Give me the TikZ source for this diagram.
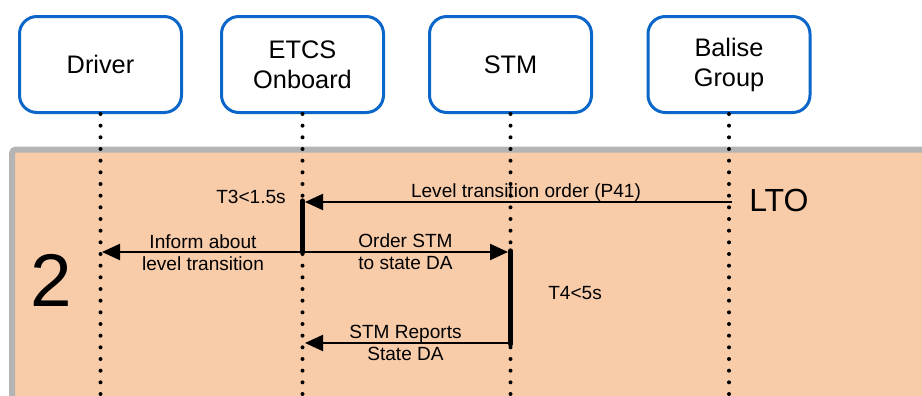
\documentclass[tikz,border=0pt]{standalone}
\usepackage{fontspec}
\setmainfont{Liberation Sans}
\usetikzlibrary{arrows.meta}
\definecolor{boxblue}{HTML}{0A66C8}
\definecolor{peach}{HTML}{F8CBA9}
\definecolor{framegray}{HTML}{B4B4B4}
\begin{document}
\begin{tikzpicture}[x=0.75pt,y=-0.75pt,
  actor/.style={draw=boxblue, line width=2.25pt, rounded corners=13pt, minimum width=121.5pt, minimum height=72pt, align=center, font=\fontsize{19}{22.5}\selectfont, inner sep=0pt, fill=white},
  life/.style={line width=3pt, dash pattern=on 0pt off 8.75pt, line cap=round},
  actbar/.style={line width=4pt, line cap=round},
  msg/.style={line width=1.5pt, -{Triangle[length=13.5pt,width=12pt]}},
  lbl/.style={font=\fontsize{14.3}{16.5}\selectfont, inner sep=0pt, align=center}]
\clip (0,0) rectangle (922,396);
% frame
\draw[line width=4.5pt, draw=framegray, fill=peach, rounded corners=3pt] (12,149.5) rectangle (960,440);
% actors
\node[actor] (drv) at (100.5,64.5) {Driver};
\node[actor] (etcs) at (302.5,64.5) {ETCS\\Onboard};
\node[actor] (stm) at (510.5,64.5) {STM};
\node[actor] (bal) at (729,64.5) {Balise\\Group};
% lifeline ends
\coordinate (drvEnd) at (100.5,400);
\coordinate (etcsEnd) at (302.5,400);
\coordinate (stmEnd) at (510.5,400);
\coordinate (balEnd) at (729,400);
\draw[life] (drv.south) -- (drvEnd);
\draw[life] (etcs.south) -- (etcsEnd);
\draw[life] (stm.south) -- (stmEnd);
\draw[life] (bal.south) -- (balEnd);
% activation bars
\coordinate (etcsBarTop) at (302.5,201);
\coordinate (etcsBarBot) at (302.5,252);
\coordinate (stmBarTop) at (510.5,251);
\coordinate (stmBarBot) at (510.5,344);
\draw[actbar] (etcsBarTop) -- (etcsBarBot);
\draw[actbar] (stmBarTop) -- (stmBarBot);
% message points
\coordinate (ltoStart) at (732,202);
\coordinate (ltoTip) at (305,202);
\coordinate (infStart) at (302.5,252);
\coordinate (infTip) at (102,252);
\coordinate (ordStart) at (302.5,252);
\coordinate (ordTip) at (508,252);
\coordinate (repStart) at (510.5,343);
\coordinate (repTip) at (305,343);
\draw[msg] (ltoStart) -- (ltoTip);
\draw[msg] (infStart) -- (infTip);
\draw[msg] (ordStart) -- (ordTip);
\draw[msg] (repStart) -- (repTip);
% labels
\node[lbl, anchor=base east] (t3) at (286,203) {T3<1.5s};
\node[lbl, anchor=base] (ltoLbl) at (526,197) {Level transition order (P41)};
\node[inner sep=0pt, anchor=base west, font=\fontsize{24}{28}\selectfont] (lto) at (749,211) {LTO};
\node[inner sep=0pt, anchor=base west, font=\fontsize{56}{60}\selectfont] (two) at (30,306) {2};
\node[lbl, anchor=north] (infLbl) at (203,234) {Inform about\\level transition};
\node[lbl, anchor=north] (ordLbl) at (405.5,233) {Order STM\\to state DA};
\node[lbl, anchor=base west] (t4) at (548,299) {T4<5s};
\node[lbl, anchor=north] (repLbl) at (405.5,325) {STM Reports\\State DA};
\end{tikzpicture}
\end{document}
